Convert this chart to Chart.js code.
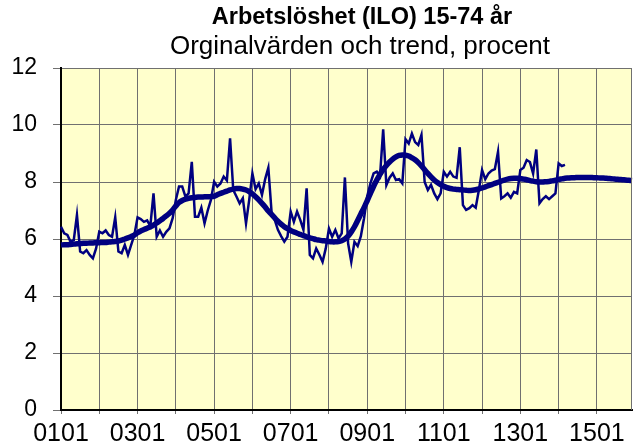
<!DOCTYPE html>
<html>
<head>
<meta charset="utf-8">
<script src="https://cdn.jsdelivr.net/npm/chart.js@4/dist/chart.umd.min.js"></script>
<style>
  body { margin: 0; background: #fff; }
  #wrap { width: 633px; height: 446px; }
</style>
</head>
<body>
<div id="wrap"><canvas id="ilo-graph" width="633" height="446"></canvas></div>
<script>
const CTX = document.getElementById('ilo-graph');

const TITLE = 'Arbetslöshet (ILO) 15-74 år';
const SUBTITLE = 'Orginalvärden och trend, procent';

// tick labels: yymm, Jan 2001 .. Dec 2015
const firstYear = 1, lastYear = 15;
const months = [];
for (let y = firstYear; y <= lastYear; y++) {
  for (let m = 1; m <= 12; m++) {
    months.push(String(y).padStart(2, '0') + String(m).padStart(2, '0'));
  }
}
const yTicks = [0, 2, 4, 6, 8, 10, 12];

// original values, one row per year
const orig01 = [6.43, 6.20, 6.14, 5.90, 5.96, 6.84, 5.56, 5.50, 5.61, 5.44, 5.32, 5.67];
const orig02 = [6.26, 6.20, 6.30, 6.14, 6.08, 6.76, 5.56, 5.50, 5.79, 5.44, 5.79, 6.14];
const orig03 = [6.76, 6.70, 6.60, 6.65, 6.45, 7.60, 6.08, 6.30, 6.08, 6.25, 6.37, 6.73];
const orig04 = [7.37, 7.84, 7.84, 7.49, 7.60, 8.71, 6.78, 6.78, 7.10, 6.55, 7.00, 7.37];
const orig05 = [8.01, 7.84, 7.95, 8.19, 8.05, 9.53, 7.72, 7.49, 7.25, 7.43, 6.55, 7.37];
const orig06 = [8.30, 7.75, 7.95, 7.55, 8.10, 8.50, 6.96, 6.67, 6.32, 6.10, 5.91, 6.08];
const orig07 = [6.96, 6.60, 6.96, 6.67, 6.32, 7.78, 5.44, 5.32, 5.67, 5.45, 5.20, 5.67];
const orig08 = [6.37, 6.08, 6.32, 6.02, 6.20, 8.16, 5.85, 5.20, 5.90, 5.75, 6.10, 6.73];
const orig09 = [7.50, 7.95, 8.30, 8.36, 8.20, 9.85, 7.89, 8.15, 8.30, 8.07, 8.10, 7.95];
const orig10 = [9.50, 9.35, 9.70, 9.40, 9.30, 9.65, 8.00, 7.72, 7.90, 7.60, 7.40, 7.60];
const orig11 = [8.36, 8.19, 8.36, 8.19, 8.15, 9.22, 7.19, 7.02, 7.08, 7.19, 7.10, 7.72];
const orig12 = [8.42, 8.10, 8.30, 8.40, 8.45, 9.06, 7.42, 7.50, 7.60, 7.45, 7.65, 7.60];
const orig13 = [8.42, 8.50, 8.77, 8.70, 8.30, 9.14, 7.25, 7.40, 7.50, 7.40, 7.50, 7.60];
const orig14 = [8.65, 8.56, 8.60];

// trend values
const trend01 = [5.79, 5.80, 5.80, 5.81, 5.82, 5.83, 5.84, 5.85, 5.85, 5.86, 5.86, 5.87];
const trend02 = [5.87, 5.88, 5.88, 5.89, 5.90, 5.91, 5.93, 5.96, 6.00, 6.04, 6.09, 6.14];
const trend03 = [6.22, 6.28, 6.33, 6.38, 6.43, 6.49, 6.56, 6.64, 6.72, 6.81, 6.90, 7.02];
const trend04 = [7.16, 7.28, 7.35, 7.40, 7.43, 7.45, 7.46, 7.47, 7.47, 7.48, 7.48, 7.49];
const trend05 = [7.50, 7.55, 7.60, 7.64, 7.68, 7.72, 7.75, 7.77, 7.77, 7.75, 7.72, 7.66];
const trend06 = [7.58, 7.48, 7.37, 7.25, 7.12, 6.98, 6.86, 6.74, 6.62, 6.52, 6.43, 6.36];
const trend07 = [6.30, 6.25, 6.20, 6.16, 6.12, 6.08, 6.04, 6.01, 5.98, 5.96, 5.94, 5.93];
const trend08 = [5.91, 5.90, 5.90, 5.91, 5.94, 6.00, 6.10, 6.25, 6.43, 6.65, 6.88, 7.10];
const trend09 = [7.35, 7.60, 7.85, 8.07, 8.27, 8.44, 8.58, 8.70, 8.80, 8.88, 8.93, 8.95];
const trend10 = [8.94, 8.91, 8.85, 8.78, 8.68, 8.56, 8.43, 8.30, 8.18, 8.07, 7.98, 7.91];
const trend11 = [7.85, 7.80, 7.77, 7.75, 7.74, 7.73, 7.72, 7.71, 7.70, 7.71, 7.73, 7.76];
const trend12 = [7.79, 7.83, 7.87, 7.91, 7.95, 7.99, 8.03, 8.07, 8.10, 8.12, 8.13, 8.13];
const trend13 = [8.12, 8.10, 8.08, 8.05, 8.03, 8.01, 8.00, 8.00, 8.01, 8.02, 8.04, 8.06];
const trend14 = [8.09, 8.11, 8.13, 8.14, 8.15, 8.15, 8.16, 8.16, 8.16, 8.16, 8.16, 8.15];
const trend15 = [8.15, 8.14, 8.14, 8.13, 8.12, 8.11, 8.10, 8.09, 8.08, 8.07, 8.06, 8.05];

const original = [].concat(orig01, orig02, orig03, orig04, orig05, orig06, orig07,
  orig08, orig09, orig10, orig11, orig12, orig13, orig14);
const trend = [].concat(trend01, trend02, trend03, trend04, trend05, trend06, trend07,
  trend08, trend09, trend10, trend11, trend12, trend13, trend14, trend15);

const NAVY = '#000080';
const GRID = '#707070';
const FONT = 'Liberation Sans, Arial, sans-serif';

const plotFrame = {
  id: 'plotFrame',
  beforeDraw(chart) {
    const a = chart.chartArea, c = chart.ctx;
    c.save();
    c.fillStyle = '#FFFFCC';
    c.fillRect(a.left, a.top, a.right - a.left, a.bottom - a.top);
    c.restore();
  },
  afterDraw(chart) {
    const a = chart.chartArea, c = chart.ctx;
    c.save();
    c.strokeStyle = GRID;
    c.lineWidth = 1;
    c.beginPath();
    c.moveTo(a.right - 0.5, a.top);
    c.lineTo(a.right - 0.5, a.bottom);
    c.stroke();
    c.fillStyle = '#000';
    c.textAlign = 'center';
    c.textBaseline = 'middle';
    c.font = 'bold 23.5px ' + FONT;
    c.fillText(TITLE, 362, 18);
    c.font = '26px ' + FONT;
    c.fillText(SUBTITLE, 360, 47);
    c.restore();
  }
};

new Chart(CTX, {
  type: 'line',
  data: {
    labels: months,
    datasets: [{
      label: 'Trend',
      data: trend,
      borderColor: NAVY,
      borderWidth: 5.5,
      pointRadius: 0,
      tension: 0.3,
      fill: false
    }, {
      label: 'Original',
      data: original,
      borderColor: NAVY,
      borderWidth: 2.5,
      pointRadius: 0,
      tension: 0,
      fill: false
    }]
  },
  options: {
    responsive: false,
    animation: false,
    layout: { padding: { top: 68, right: 1, left: 0, bottom: 0 } },
    plugins: {
      legend: { display: false },
      tooltip: { enabled: false }
    },
    scales: {
      x: {
        offset: false,
        afterFit(scale) {
          scale.height = 36;
          scale.paddingLeft = 0;
          scale.paddingRight = 0;
        },
        border: { color: '#000', width: 2 },
        grid: {
          color: (c) => c.index % 12 === 0 ? GRID : 'rgba(0,0,0,0)',
          tickColor: (c) => c.index % 12 === 0 ? GRID : 'rgba(0,0,0,0)',
          tickLength: 4
        },
        ticks: {
          autoSkip: false,
          maxRotation: 0,
          minRotation: 0,
          padding: 5,
          color: '#000',
          font: { family: FONT, size: 25 },
          callback: function (val, i) { return i % 24 === 0 ? months[i] : ''; }
        }
      },
      y: {
        min: 0,
        max: 12,
        afterFit(scale) { scale.width = 61; },
        afterBuildTicks(scale) { scale.ticks = yTicks.map(v => ({ value: v })); },
        border: { color: '#000', width: 2 },
        grid: { color: GRID, tickColor: GRID, tickLength: 8 },
        ticks: {
          padding: 16,
          color: '#000',
          font: { family: FONT, size: 23 }
        }
      }
    }
  },
  plugins: [plotFrame]
});
</script>
</body>
</html>
